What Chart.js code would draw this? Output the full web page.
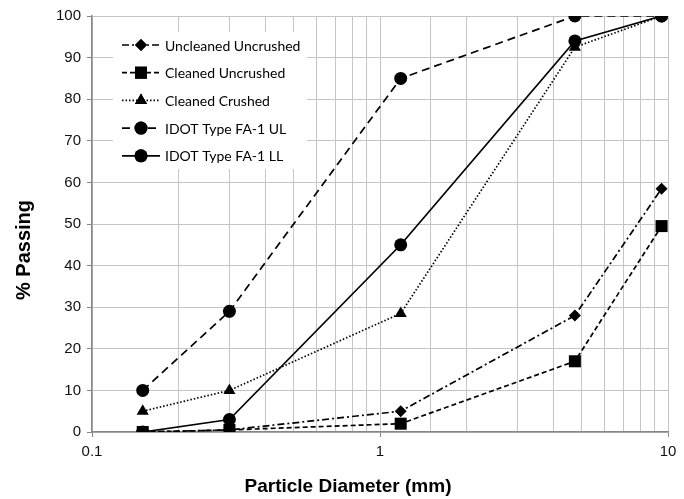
<!DOCTYPE html>
<html>
<head>
<meta charset="utf-8">
<script src="https://cdn.jsdelivr.net/npm/chart.js@4.4.1/dist/chart.umd.min.js"></script>
<style>
  html, body { margin: 0; padding: 0; background: #fff; }
  #wrap { width: 684px; height: 499px; }
</style>
</head>
<body>
<div id="wrap"><canvas id="gradation"></canvas></div>
<script>
// sieve sizes (mm) and percent passing
var sieveSizes = [0.15, 0.3, 1.18, 4.75, 9.5];
var uncleanedUncrushed = [0, 0.5, 5, 28, 58.5];
var cleanedUncrushed = [0, 0.5, 2, 17, 49.5];
var cleanedCrushed = [5, 10, 28.5, 92.5, 100];
var idotUpper = [10, 29, 85, 100, 100];
var idotLower = [0, 3, 45, 94, 100];

var seriesNames = ['Uncleaned Uncrushed', 'Cleaned Uncrushed', 'Cleaned Crushed', 'IDOT Type FA-1 UL', 'IDOT Type FA-1 LL'];
var xTicks = [0.1, 1, 10];
var yTicks = [0, 10, 20, 30, 40, 50, 60, 70, 80, 90, 100];

function toPoints(values) {
    return sieveSizes.map(function(s, i) { return { x: s, y: values[i] }; });
}

function isDecade(v) {
    return xTicks.some(function(t) { return Math.abs(t - v) < 1e-9; });
}

var lineStyles = [
    { data: uncleanedUncrushed, dash: [7, 3, 2, 3], point: 'rectRot', radius: 6 },
    { data: cleanedUncrushed, dash: [5, 3], point: 'rect', radius: 8.5 },
    { data: cleanedCrushed, dash: [1.5, 2], point: 'triangle', radius: 7 },
    { data: idotUpper, dash: [8, 5], point: 'circle', radius: 6.5 },
    { data: idotLower, dash: [], point: 'circle', radius: 6.5 }
];

var datasets = lineStyles.map(function(s, i) {
    return {
        label: seriesNames[i],
        data: toPoints(s.data),
        borderColor: '#000',
        backgroundColor: '#000',
        borderWidth: 1.7,
        borderDash: s.dash,
        pointStyle: s.point,
        pointRadius: s.radius,
        pointHoverRadius: s.radius,
        pointBorderWidth: 0,
        fill: false,
        tension: 0
    };
});

// legend box inside the plot and the two axis titles
var overlay = {
    id: 'overlay',
    afterDraw: function(chart) {
        var ctx = chart.ctx;
        ctx.save();

        ctx.fillStyle = '#fff';
        ctx.fillRect(113, 32, 194, 137);

        ctx.font = '14px Lato, "Open Sans", sans-serif';
        ctx.textBaseline = 'middle';
        ctx.textAlign = 'left';
        chart.data.datasets.forEach(function(ds, i) {
            var y = 45 + i * 27.7;
            ctx.strokeStyle = '#000';
            ctx.lineWidth = 1.7;
            ctx.setLineDash(ds.borderDash);
            ctx.beginPath();
            ctx.moveTo(122, y);
            ctx.lineTo(160, y);
            ctx.stroke();
            ctx.setLineDash([]);
            ctx.fillStyle = '#000';
            Chart.helpers.drawPoint(ctx, { pointStyle: ds.pointStyle, radius: ds.pointRadius, rotation: 0, borderWidth: 0 }, 141, y);
            ctx.fill();
            ctx.fillText(ds.label, 165, y + 1);
        });

        ctx.fillStyle = '#000';
        ctx.textAlign = 'center';
        ctx.font = 'bold 19px "Liberation Sans", Arial, sans-serif';
        ctx.fillText('Particle Diameter (mm)', 348, 487);
        ctx.translate(24, 250);
        ctx.rotate(-Math.PI / 2);
        ctx.font = 'bold 20px "Liberation Sans", Arial, sans-serif';
        ctx.fillText('% Passing', 0, 0);
        ctx.restore();
    }
};

var ctx = document.getElementById('gradation').getContext('2d');
var chart = new Chart(ctx, {
    type: 'line',
    data: { datasets: datasets },
    options: {
        responsive: true,
        maintainAspectRatio: false,
        animation: false,
        layout: { padding: { top: 16, right: 16, left: 0, bottom: 0 } },
        plugins: {
            legend: { display: false },
            tooltip: { enabled: false }
        },
        scales: {
            x: {
                type: 'logarithmic',
                min: 0.1,
                max: 10,
                afterFit: function(scale) { scale.height = 67; },
                border: { color: '#868686', width: 1.5 },
                grid: {
                    color: '#c4c4c4',
                    lineWidth: 1,
                    tickLength: 5,
                    tickColor: function(c) { return isDecade(c.tick.value) ? '#868686' : 'rgba(0,0,0,0)'; }
                },
                ticks: {
                    autoSkip: false,
                    maxRotation: 0,
                    padding: 6,
                    color: '#111',
                    font: { family: '"Liberation Sans", Arial, sans-serif', size: 15 },
                    callback: function(value) {
                        return isDecade(value) ? String(parseFloat(value.toPrecision(3))) : '';
                    }
                }
            },
            y: {
                min: 0,
                max: 100,
                afterFit: function(scale) { scale.width = 92; },
                afterBuildTicks: function(scale) {
                    scale.ticks = yTicks.map(function(v) { return { value: v }; });
                },
                border: { color: '#868686', width: 1.5 },
                grid: { color: '#c4c4c4', lineWidth: 1, tickLength: 5, tickColor: '#868686' },
                ticks: {
                    padding: 6,
                    color: '#111',
                    font: { family: '"Liberation Sans", Arial, sans-serif', size: 15 }
                }
            }
        }
    },
    plugins: [overlay]
});
</script>
</body>
</html>
